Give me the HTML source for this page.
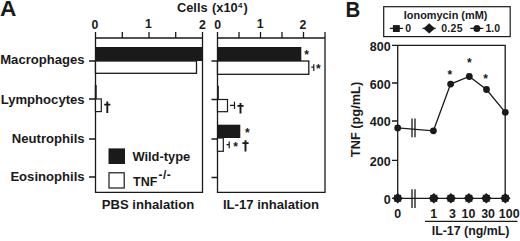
<!DOCTYPE html>
<html><head><meta charset="utf-8">
<style>
html,body{margin:0;padding:0;background:#fff;}
body{width:520px;height:241px;overflow:hidden;}
svg{display:block;}
text{font-family:"Liberation Sans",sans-serif;font-weight:bold;fill:#1a1a1a;}
</style></head><body>
<svg width="520" height="241" viewBox="0 0 520 241">
<g stroke="#1a1a1a" fill="none" stroke-width="1.3">
<!-- PBS frame -->
<path d="M95.5 32V192.3H202.5V32M95.5 38H202.5M122.3 32V38M149 32V38M175.7 32V38"/>
<!-- IL-17 frame -->
<path d="M217.5 32V192.3H325V32M217.5 38H325M239 32V38M260.5 32V38M282 32V38M303.5 32V38"/>
<!-- category ticks PBS -->
<path d="M89 61H95.5M89 99H95.5M89 139H95.5M89 177H95.5"/>
<path d="M211.5 61H217.5M211.5 99.5H217.5M211.5 139H217.5M211.5 177.5H217.5"/>
</g>
<!-- bars PBS -->
<rect x="95.5" y="47" width="107" height="14" fill="#1a1a1a"/>
<rect x="95.5" y="61" width="101" height="12.3" fill="#fff" stroke="#1a1a1a" stroke-width="1.3"/>
<rect x="94.8" y="85" width="1.9" height="14" fill="#1a1a1a"/>
<rect x="95.5" y="99" width="5.8" height="12.6" fill="#fff" stroke="#1a1a1a" stroke-width="1.2"/>
<!-- bars IL-17 -->
<rect x="217.5" y="47" width="83.8" height="14" fill="#1a1a1a"/>
<rect x="217.5" y="61" width="91.3" height="13.3" fill="#fff" stroke="#1a1a1a" stroke-width="1.3"/>
<rect x="217" y="85.8" width="1.8" height="13.6" fill="#1a1a1a"/>
<rect x="217.5" y="99.5" width="10" height="12.2" fill="#fff" stroke="#1a1a1a" stroke-width="1.2"/>
<rect x="217.5" y="124.7" width="22.8" height="13.3" fill="#1a1a1a"/>
<rect x="217.5" y="138" width="5.8" height="13.3" fill="#fff" stroke="#1a1a1a" stroke-width="1.2"/>
<!-- error bars -->
<g stroke="#1a1a1a" stroke-width="1.2" fill="none">
<path d="M311.3 67.2H313.8M313.8 64.3V71"/>
<path d="M230 105.4H234.5M234.5 101.7V109.1"/>
<path d="M226.5 144.6H229.2M229.2 141.4V148.2"/>
</g>
<!-- legend A -->
<rect x="108.5" y="148.4" width="16.5" height="15.6" fill="#1a1a1a"/>
<rect x="109" y="172.8" width="15.2" height="15.2" fill="#fff" stroke="#1a1a1a" stroke-width="1.2"/>
<!-- texts A -->
<text x="0" y="16.4" font-size="22.7">A</text>
<g font-size="12.8"><text x="177" y="11.6">Cells</text><text x="212" y="11.6">(x10</text><text x="238.1" y="8" font-size="8">4</text><text x="243.4" y="11.6">)</text></g>
<g font-size="12.3" text-anchor="middle">
<text x="95" y="28.6">0</text><text x="148.3" y="28.4">1</text><text x="202.3" y="28.5">2</text>
<text x="217.6" y="28.5">0</text><text x="260.2" y="28.4">1</text><text x="302.8" y="28.5">2</text>
</g>
<g font-size="13.1" text-anchor="end">
<text x="84.6" y="63.8">Macrophages</text>
<text x="84.6" y="103.6">Lymphocytes</text>
<text x="84.6" y="142.8">Neutrophils</text>
<text x="84.6" y="180.9">Eosinophils</text>
</g>
<g font-size="13.1" text-anchor="middle">
<text x="148" y="208.6">PBS inhalation</text>
<text x="271" y="208.8">IL-17 inhalation</text>
</g>
<text x="132.4" y="161.2" font-size="12.9">Wild-type</text>
<text x="133" y="185.5" font-size="12.5">TNF</text><text x="158.5" y="178.6" font-size="12" letter-spacing="0.5">-/-</text>
<!-- symbols A -->
<g stroke="#1a1a1a" fill="none">
<path d="M107.3 101.6V112.9M240.5 102.9V113.6M245.5 140.3V151.4" stroke-width="1.9"/>
<path d="M104.2 104.7H110.4M237.4 105.9H243.6M242.4 143.2H248.6" stroke-width="1.7"/>
</g>
<g font-size="12" text-anchor="middle">
<text x="306.5" y="58.6">*</text>
<text x="318.4" y="72.9">*</text>
<text x="247.4" y="136.8">*</text>
<text x="235.7" y="150.8">*</text>
</g>

<!-- Panel B -->
<text transform="translate(345.5 16.6) scale(0.9 1)" font-size="22.7">B</text>
<rect x="383.7" y="6.7" width="126.5" height="29.9" fill="none" stroke="#1a1a1a" stroke-width="1.2"/>
<text x="445.6" y="18.7" font-size="10.9" text-anchor="middle">Ionomycin (mM)</text>
<g stroke="#1a1a1a" stroke-width="1.3" fill="#1a1a1a">
<path d="M389.8 28.4H402.9M422.5 28.4H435.7M470.3 28.4H483.3" fill="none"/>
<rect x="392.9" y="25.1" width="6.9" height="6.9" stroke="none"/>
<path d="M429.2 23.2L435 28.4L429.2 33.6L423.4 28.4Z" stroke="none"/>
<circle cx="476.9" cy="28.45" r="3.5" stroke="none"/>
</g>
<g font-size="10.5">
<text x="405.3" y="31.8">0</text>
<text x="441.2" y="31.8" textLength="21.3">0.25</text>
<text x="485.5" y="31.8">1.0</text>
</g>
<!-- plot frame B -->
<g stroke="#1a1a1a" stroke-width="1.3" fill="none">
<path d="M397.7 45.4V198.3M392 45.4H505.2V198.3M392 198.3H505.2"/>
<path d="M392 83H397.7M392 121H397.7M392 160.3H397.7"/>
<path d="M412 118.4V137.3M415 118.4V137.3M412 189.3V208M415 189.3V208"/>
<path d="M397.7 127.9L433.4 130.8L450.6 84.1L469.3 76.5L486.5 89.5L505.3 112.3"/>
<path d="M425 221.3H517.5"/>
</g>
<g fill="#1a1a1a">
<circle cx="397.7" cy="127.9" r="3.4"/>
<circle cx="433.4" cy="130.8" r="3.4"/>
<circle cx="450.6" cy="84.1" r="3.4"/>
<circle cx="469.3" cy="76.5" r="3.4"/>
<circle cx="486.5" cy="89.5" r="3.4"/>
<circle cx="505.3" cy="112.3" r="3.4"/>
</g>
<!-- zero markers -->
<g fill="#1a1a1a" id="zm">
<g transform="translate(397.7 198.3)"><rect x="-3.5" y="-3.5" width="7" height="7"/><path d="M0 -5.2L5.2 0L0 5.2L-5.2 0Z"/></g>
<g transform="translate(433.8 198.3)"><rect x="-3.5" y="-3.5" width="7" height="7"/><path d="M0 -5.2L5.2 0L0 5.2L-5.2 0Z"/></g>
<g transform="translate(450.9 198.3)"><rect x="-3.5" y="-3.5" width="7" height="7"/><path d="M0 -5.2L5.2 0L0 5.2L-5.2 0Z"/></g>
<g transform="translate(468.9 198.3)"><rect x="-3.5" y="-3.5" width="7" height="7"/><path d="M0 -5.2L5.2 0L0 5.2L-5.2 0Z"/></g>
<g transform="translate(486.3 198.3)"><rect x="-3.5" y="-3.5" width="7" height="7"/><path d="M0 -5.2L5.2 0L0 5.2L-5.2 0Z"/></g>
<g transform="translate(505.3 198.3)"><rect x="-3.5" y="-3.5" width="7" height="7"/><path d="M0 -5.2L5.2 0L0 5.2L-5.2 0Z"/></g>
</g>
<g font-size="12" text-anchor="middle">
<text x="449.9" y="78.7">*</text>
<text x="469.3" y="66.7">*</text>
<text x="485.5" y="83">*</text>
</g>
<g font-size="12.5" text-anchor="end">
<text x="390.7" y="50.5">800</text>
<text x="390.7" y="88.6">600</text>
<text x="390.7" y="126.3">400</text>
<text x="390.7" y="165.7">200</text>
<text x="390.7" y="203.6">0</text>
</g>
<g font-size="12.4" text-anchor="middle">
<text x="397.6" y="218.2">0</text>
<text x="433.8" y="218.2">1</text>
<text x="452.4" y="218.2">3</text>
<text x="468.5" y="218.2">10</text>
<text x="488.1" y="218.2">30</text>
<text x="509.2" y="218.2">100</text>
<text x="470.6" y="235.3">IL-17 (ng/mL)</text>
</g>
<text transform="translate(359.5 119.5) rotate(-90)" font-size="12.8" text-anchor="middle">TNF (pg/mL)</text>
</svg>
</body></html>
